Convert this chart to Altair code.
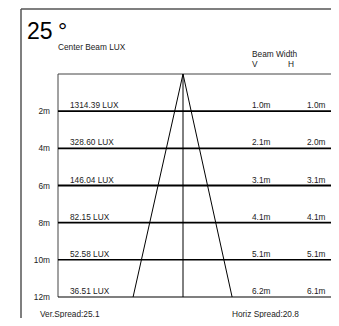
import altair as alt
import pandas as pd

# ---- data ----
distances = [2, 4, 6, 8, 10, 12]
dist_labels = ["2m", "4m", "6m", "8m", "10m", "12m"]
lux = ["1314.39 LUX", "328.60 LUX", "146.04 LUX", "82.15 LUX", "52.58 LUX", "36.51 LUX"]
v_width = [1.0, 2.1, 3.1, 4.1, 5.1, 6.2]
h_width = [1.0, 2.0, 3.1, 4.1, 5.1, 6.1]
beam_angle = "25"
ver_spread = 25.1
horiz_spread = 20.8

FONT = "Liberation Sans"
W, H = 323, 310
OX, OY = 8, 8  # page margin

rows = pd.DataFrame({
    "d": distances,
    "dl": dist_labels,
    "lux": lux,
    "v": [f"{v:.1f}m" for v in v_width],
    "h": [f"{h:.1f}m" for h in h_width],
})

# y: 0 m at page y 74, 12 m at page y 297
ppm_y = (297 - 74) / 12.0
y0 = 74 - OY
ys = alt.Scale(domain=[-y0 / ppm_y, (H - y0) / ppm_y], reverse=True, nice=False, zero=False)
# x: centre at page x 183, 16.1 px per metre
ppm_x = 16.1
x0 = 183 - OX
xs = alt.Scale(domain=[-x0 / ppm_x, (W - x0) / ppm_x], nice=False, zero=False)

X = lambda f: alt.X(f, type="quantitative", scale=xs, axis=None)
Y = lambda f: alt.Y(f, type="quantitative", scale=ys, axis=None)

tri = pd.DataFrame({
    "side": ["L", "L", "R", "R"],
    "d": [0, distances[-1], 0, distances[-1]],
    "x": [0, -v_width[-1] / 2, 0, h_width[-1] / 2],
})

rows["sw"] = [1.8, 1.8, 1.8, 1.6, 1.5, 1.2]
base = alt.Chart(rows)
one = pd.DataFrame({"a": [0]})

hlines = base.mark_rule(color="black").encode(
    y=Y("d"), x=alt.value(58 - OX), x2=alt.value(W),
    strokeWidth=alt.StrokeWidth("sw:Q", scale=None, legend=None))

top_line = alt.Chart(pd.DataFrame({"d": [0]})).mark_rule(color="#444", strokeWidth=1).encode(
    y=Y("d"), x=alt.value(58 - OX), x2=alt.value(W))

left_line = alt.Chart(pd.DataFrame({"d": [0], "d2": [distances[-1]]})).mark_rule(
    color="#444", strokeWidth=1).encode(y=Y("d"), y2="d2", x=alt.value(58 - OX))

center = alt.Chart(pd.DataFrame({"x": [0], "d": [0], "d2": [distances[-1]]})).mark_rule(
    color="black", strokeWidth=1).encode(x=X("x"), y=Y("d"), y2="d2")

triangle = alt.Chart(tri).mark_line(color="black", strokeWidth=1).encode(
    x=X("x"), y=Y("d"), detail="side:N", order="d:Q")

frame_l = alt.Chart(one).mark_rule(color="#555", strokeWidth=1.5).encode(
    x=alt.value(21 - OX), y=alt.value(9 - OY), y2=alt.value(H))
frame_t = alt.Chart(one).mark_rule(color="#555", strokeWidth=1.5).encode(
    x=alt.value(21 - OX), x2=alt.value(W), y=alt.value(9 - OY))

txt = dict(font=FONT, fontSize=8.3, color="#222")

dl_text = base.mark_text(align="right", baseline="middle", dy=1, **txt).encode(
    y=Y("d"), x=alt.value(50 - OX), text="dl:N")
lux_text = base.mark_text(align="left", baseline="alphabetic", dy=-3, **txt).encode(
    y=Y("d"), x=alt.value(70 - OX), text="lux:N")
v_text = base.mark_text(align="left", baseline="alphabetic", dy=-3, **txt).encode(
    y=Y("d"), x=alt.value(252 - OX), text="v:N")
h_text = base.mark_text(align="left", baseline="alphabetic", dy=-3, **txt).encode(
    y=Y("d"), x=alt.value(307 - OX), text="h:N")

def label(s, x, y, baseline="middle", **kw):
    opts = dict(txt)
    opts.update(kw)
    return alt.Chart(pd.DataFrame({"t": [s]})).mark_text(align="left", baseline=baseline, **opts).encode(
        x=alt.value(x - OX), y=alt.value(y - OY), text="t:N")

title = label(beam_angle, 27, 39, baseline="alphabetic", fontSize=23, color="black")
deg = label("°", 58, 39, baseline="alphabetic", fontSize=23, color="black")
cbl = label("Center Beam LUX", 58, 48)
bw = label("Beam Width", 252, 54.5)
vl = label("V", 252, 64.5)
hl = label("H", 288, 64.5)
vs = label(f"Ver.Spread:{ver_spread}", 40, 314.5)
hs = label(f"Horiz Spread:{horiz_spread}", 232, 314.5)

chart = alt.layer(
    frame_l, frame_t, top_line, left_line, hlines, center, triangle,
    dl_text, lux_text, v_text, h_text, title, deg, cbl, bw, vl, hl, vs, hs
).properties(
    width=W, height=H, padding=0,
    autosize=alt.AutoSizeParams(type="none"),
    background="white",
).configure_view(stroke=None)

chart.save("out.html", embed_options={"renderer": "svg", "actions": False})
